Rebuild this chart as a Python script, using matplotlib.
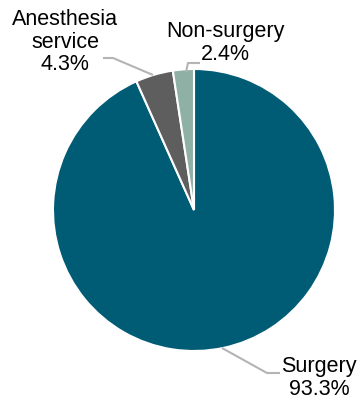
import matplotlib.pyplot as plt

# share of cases by service type
labels = ["Surgery", "Anesthesia\nservice", "Non-surgery"]
shares = [93.3, 4.3, 2.4]
colors = ["#005b75", "#5e5e5e", "#8fb1a5"]

plt.rcParams['font.family'] = ['Liberation Sans', 'DejaVu Sans']

W, H = 360, 403
fig = plt.figure(figsize=(W / 100, H / 100), dpi=100)
ax = fig.add_axes([0, 0, 1, 1])

cx, cy, r = 194, H - 210, 141
ax.pie(shares, colors=colors, startangle=90, counterclock=False,
       center=(cx, cy), radius=r, frame=True,
       wedgeprops=dict(edgecolor='white', linewidth=1.5))
ax.set_xlim(0, W)
ax.set_ylim(0, H)
ax.axis('off')

# label text positions and leader lines (pixel coords, y from top)
label_pos = [(319, 378), (65, 42), (225, 43)]
leaders = [
    [(222, 348), (267, 373), (280, 373)],
    [(153, 75), (113, 58), (103, 58)],
    [(186, 72), (188, 63), (200, 63)],
]

for lab, val, (tx, ty), pts in zip(labels, shares, label_pos, leaders):
    ax.text(tx, H - ty, f"{lab}\n{val:.1f}%", ha='center', va='center',
            fontsize=15.5, linespacing=1.12, color='black')
    xs = [p[0] for p in pts]
    ys = [H - p[1] for p in pts]
    ax.plot(xs, ys, color='#b4b4b4', linewidth=1.5, solid_capstyle='butt')

fig.savefig("out.png", dpi=100)
